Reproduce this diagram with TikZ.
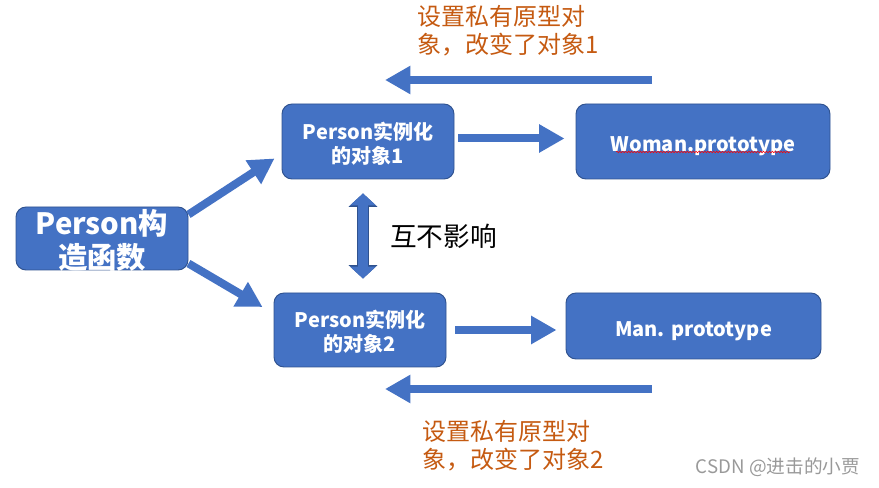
\documentclass[tikz,border=0pt]{standalone}
\usepackage{fontspec}
\setmainfont{Noto Sans CJK SC}
\usetikzlibrary{arrows.meta}
\usetikzlibrary{positioning}
\usetikzlibrary{calc}
\usetikzlibrary{decorations.pathmorphing}
\definecolor{boxblue}{HTML}{4472C4}
\definecolor{boxedge}{HTML}{2F528F}
\definecolor{noteorange}{HTML}{C55A11}
\newcommand{\lowered}[2]{\raisebox{-#1}[\height][\depth]{#2}}
\tikzstyle{bluebox} = [rectangle, rounded corners=7.5pt,
draw=boxedge, 
line width=0.7pt,
fill=boxblue,
text=white,
text centered,
align=center,
inner sep=0pt,
font=\bfseries\fontsize{15}{18}\selectfont]
\tikzstyle{ctortext} = [text=white, align=center, inner sep=0pt,
font=\bfseries\fontsize{22}{25.5}\selectfont]
\tikzstyle{note} = [text=noteorange, align=left, inner sep=0pt,
font=\fontsize{18}{21}\selectfont]
\tikzstyle{blockarrow} = [draw=boxblue, line width=6pt, -{Triangle[length=19pt,width=20pt]}]
\tikzstyle{dblarrow} = [draw=boxblue, line width=7pt,
{Triangle[length=9pt,width=19pt]}-{Triangle[length=9pt,width=19pt]},
preaction={draw=boxedge, line width=8.4pt, {Triangle[length=10pt,width=21pt]}-{Triangle[length=10pt,width=21pt]}}]
\tikzstyle{spellwave} = [draw=red, line width=0.4pt, decorate,
decoration={snake, amplitude=0.6pt, segment length=2.2pt}]

\begin{document}
\begin{tikzpicture}[x=0.75pt,y=-0.75pt]
\useasboundingbox (0,0) rectangle (879,488);

\node [bluebox, minimum width=129pt, minimum height=47.25pt] (ctor) at (102,238.5) {};
\node [ctortext] at ($(ctor)+(0,2)$) {Person构\\造函数};
\node [bluebox, minimum width=129pt, minimum height=56.25pt] (obj1) at (368,141.5) {\lowered{1.5pt}{Person实例化}\\\lowered{1.5pt}{的对象1}};
\node [bluebox, minimum width=129pt, minimum height=55.5pt] (obj2) at (360,330) {\lowered{1.5pt}{Person实例化}\\\lowered{1.5pt}{的对象2}};
\node [bluebox, minimum width=190.5pt, minimum height=56.25pt] (woman) at (703,141.5) {\lowered{3.75pt}{Woman.prototype}};
\node [bluebox, minimum width=191.25pt, minimum height=49.5pt] (man) at (693.5,326) {\lowered{3.75pt}{Man. prototype}};

\node [note, anchor=west] (note1) at (417,31) {设置私有原型对\\象，改变了对象1};
\node [note, anchor=west] (note2) at (422,445.5) {设置私有原型对\\象，改变了对象2};
\node [anchor=west, inner sep=0pt, font=\fontsize{20}{24}\selectfont] (apart) at (390,236) {互不影响};
\node [text=black!40, inner sep=0pt, font=\fontsize{14}{16}\selectfont] (mark) at (778,467) {CSDN @进击的小贾};

\coordinate (top1) at (652,80);
\coordinate (top2) at (385,80);
\coordinate (bot1) at (652,389);
\coordinate (bot2) at (385,389);

\path [blockarrow] ($(ctor.north east)+(0,8)$) -- ($(obj1.south west)+(-7,-21)$);
\path [blockarrow] ($(ctor.south east)+(0,-7)$) -- ($(obj2.west)+(-11,-23)$);
\path [blockarrow] ($(obj1.east)+(4,-3)$) -- ($(woman.west)+(-11,-3)$);
\path [blockarrow] ($(obj2.east)+(9,0)$) -- ($(obj2.east -| man.west)+(-9,0)$);
\path [blockarrow] (top1) -- (top2);
\path [blockarrow] (bot1) -- (bot2);
\path [dblarrow] ($(obj1.south)+(-5,14)$) -- ($(obj2.north)+(3,-14)$);

\path [spellwave] ($(woman.center)+(-87,10.5)$) -- ($(woman.center)+(87,10.5)$);

\end{tikzpicture}
\end{document}
